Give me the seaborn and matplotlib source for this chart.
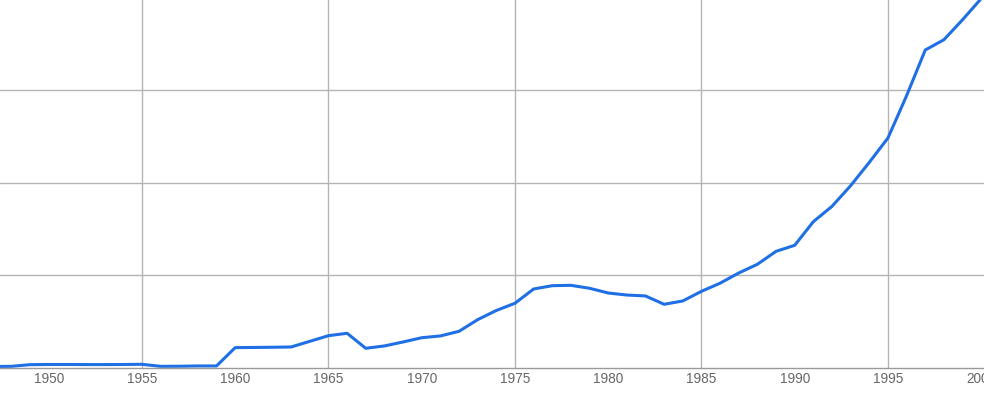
import matplotlib
matplotlib.use("Agg")
import matplotlib.pyplot as plt
import seaborn as sns
import pandas as pd
import numpy as np

years = list(range(1947, 2001))
values = [0.016, 0.018, 0.036, 0.038, 0.038, 0.037, 0.037, 0.038, 0.040,
          0.018, 0.019, 0.022, 0.022,
          0.220, 0.222, 0.224, 0.227, 0.288, 0.349, 0.375, 0.213, 0.238,
          0.281, 0.327, 0.346, 0.396, 0.522, 0.621, 0.699, 0.853, 0.889,
          0.893, 0.861, 0.810, 0.788, 0.778, 0.688, 0.724, 0.828, 0.916,
          1.026, 1.120, 1.260, 1.325, 1.580, 1.746, 1.969, 2.221, 2.484,
          2.941, 3.434, 3.545, 3.761, 3.99]
tick_years = list(range(1950, 2001, 5))
grid_years = list(range(1955, 2000, 10))

df = pd.DataFrame({"year": years, "value": values})

sns.set_theme(style="white")
plt.rcParams['font.family'] = ['Liberation Sans', 'DejaVu Sans']

fig = plt.figure(figsize=(9.84, 4.10), dpi=100)
ax = fig.add_axes([0, 0.1, 1, 0.9])

sns.lineplot(data=df, x="year", y="value", ax=ax, color="#1f6fe5", linewidth=2.2)

ax.set_xlim(1947.39, 2000.15)
ax.set_ylim(0, 3.985)

ax.xaxis.remove_overlapping_locs = False
ax.set_xticks(tick_years)
ax.set_xticklabels([str(y) for y in tick_years])
ax.set_xticks(grid_years, minor=True)
ax.set_yticks([1, 2, 3])
ax.set_yticklabels([])
ax.grid(False)
ax.grid(which="minor", axis="x", color="#b4b4b4", linewidth=1.0)
ax.grid(which="major", axis="y", color="#b4b4b4", linewidth=1.0)
ax.set_axisbelow(True)

ax.tick_params(axis="x", which="both", length=0, pad=2, labelsize=9.8, labelcolor="#666666")
ax.tick_params(axis="y", length=0)
for s in ["top", "left", "right"]:
    ax.spines[s].set_visible(False)
ax.spines["bottom"].set_color("#999999")
ax.spines["bottom"].set_linewidth(1.0)
ax.set_xlabel("")
ax.set_ylabel("")
ax.patch.set_alpha(0)

fig.savefig("out.png", dpi=100)
